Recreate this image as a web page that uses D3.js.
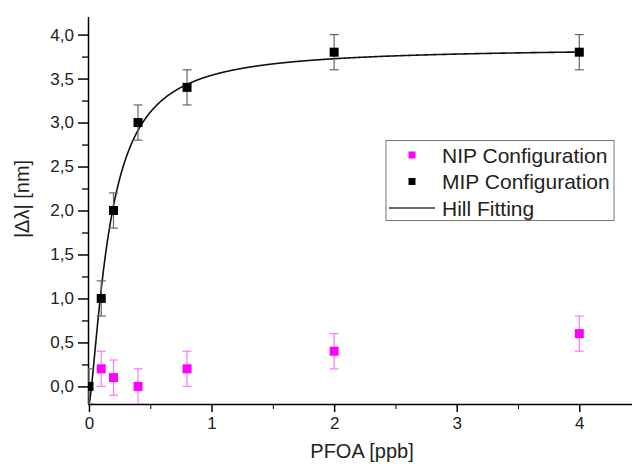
<!DOCTYPE html>
<html><head><meta charset="utf-8">
<script src="https://cdn.jsdelivr.net/npm/d3@7"></script>
<style>body{margin:0;background:#fff}svg{display:block;font-family:"Liberation Sans",Arial,sans-serif}</style>
</head><body><svg id="c" width="632" height="468"></svg>
<script>
const mipX = [0, 0.1, 0.2, 0.4, 0.8, 2, 4];
const mipY = [0, 1.0, 2.0, 3.0, 3.4, 3.8, 3.8];
const mipErr = [0.2, 0.2, 0.2, 0.2, 0.2, 0.2, 0.2];
const nipX = [0.1, 0.2, 0.4, 0.8, 2, 4];
const nipY = [0.2, 0.1, 0.0, 0.2, 0.4, 0.6];
const nipErr = [0.2, 0.2, 0.2, 0.2, 0.2, 0.2];
// Hill fit parameters: start, end, k, n
const hillParams = [-0.2, 3.85, 0.17, 1.4];
const xTicks = [0, 1, 2, 3, 4];
const yTicks = [0, 0.5, 1, 1.5, 2, 2.5, 3, 3.5, 4];
const legendLabels = ["NIP Configuration", "MIP Configuration", "Hill Fitting"];

const svg = d3.select("#c");
const x = d3.scaleLinear().domain([-0.008, 4.43]).range([88, 632]);
const y = d3.scaleLinear().domain([-0.2, 4.2]).range([404, 17]);
const fmt = d => d3.format(".1f")(d).replace(".", ",");

svg.append("defs").append("clipPath").attr("id","clip")
  .append("rect").attr("x",88).attr("y",17).attr("width",544).attr("height",387);

// Axes
const gx = svg.append("g").attr("transform","translate(0,404)");
gx.call(d3.axisBottom(x).tickValues(d3.range(0.5,4.5,1)).tickSize(5).tickFormat(""));
gx.call(g=>g.select(".domain").remove());
const gx2 = svg.append("g").attr("transform","translate(0,404)");
gx2.call(d3.axisBottom(x).tickValues(xTicks).tickSize(8).tickPadding(5).tickFormat(d3.format("d")));
gx2.selectAll("text").attr("font-size",17).attr("fill","#222").attr("font-family","Liberation Sans, Arial");
gx2.selectAll("line").attr("stroke-width",1.5);
gx2.select(".domain").attr("stroke-width",1.5);

const gy = svg.append("g").attr("transform","translate(88,0)");
gy.call(d3.axisLeft(y).tickValues(d3.range(0.25,4.2,0.5)).tickSize(6).tickFormat(""));
gy.call(g=>g.select(".domain").remove());
gy.selectAll("line").attr("stroke-width",1.3);
const gy2 = svg.append("g").attr("transform","translate(88,0)");
gy2.call(d3.axisLeft(y).tickValues(yTicks).tickSize(10).tickPadding(4).tickFormat(fmt));
gy2.selectAll("text").attr("font-size",17).attr("fill","#222").attr("font-family","Liberation Sans, Arial");
gy2.selectAll("line").attr("stroke-width",1.5);
gy2.select(".domain").attr("stroke-width",1.5).attr("d","M0.5,17V404");
gx2.select(".domain").attr("d","M88,0.5H632");

// axis titles
svg.append("text").attr("x",362).attr("y",458).attr("text-anchor","middle")
  .attr("font-size",20).attr("fill","#222").text("PFOA [ppb]");
svg.append("text").attr("transform","translate(29,199) rotate(-90)").attr("text-anchor","middle")
  .attr("font-size",20).attr("fill","#222").text("|Δλ| [nm]");

const plot = svg.append("g").attr("clip-path","url(#clip)");

// Hill curve
const [h0,h1,hk,hn] = hillParams;
const hill = v => h0 + (h1-h0) * Math.pow(v,hn)/(Math.pow(hk,hn)+Math.pow(v,hn));
const xs = d3.range(0, 4.0001, 0.0025);
plot.append("path").datum(xs)
  .attr("d", d3.line().x(d=>x(d)).y(d=>y(hill(d))))
  .attr("fill","none").attr("stroke","#111").attr("stroke-width",1.6);

function errs(xa, ya, ea, color){
  const g = plot.append("g").attr("stroke",color).attr("stroke-width",1.2);
  xa.forEach((xv,i)=>{
    const cx = x(xv), t = y(ya[i]+ea[i]), b = y(ya[i]-ea[i]);
    g.append("line").attr("x1",cx).attr("x2",cx).attr("y1",t).attr("y2",b);
    g.append("line").attr("x1",cx-4.5).attr("x2",cx+4.5).attr("y1",t).attr("y2",t);
    g.append("line").attr("x1",cx-4.5).attr("x2",cx+4.5).attr("y1",b).attr("y2",b);
  });
}
function marks(xa, ya, color){
  plot.append("g").selectAll("rect").data(xa).join("rect")
    .attr("x",(d)=>x(d)-4.5).attr("y",(d,i)=>y(ya[i])-4.5)
    .attr("width",9).attr("height",9).attr("fill",color);
}
errs(nipX, nipY, nipErr, "#ff77ff");
errs(mipX, mipY, mipErr, "#666");
marks(nipX, nipY, "#ff00ff");
marks(mipX, mipY, "#000");

// Legend
const lg = svg.append("g");
lg.append("rect").attr("x",386).attr("y",140.5).attr("width",228).attr("height",80)
  .attr("fill","#fff").attr("stroke","#777").attr("stroke-width",1);
const ly = [155, 181.5, 208];
lg.append("rect").attr("x",408.5).attr("y",ly[0]-3.5).attr("width",7).attr("height",7).attr("fill","#ff00ff");
lg.append("rect").attr("x",408.5).attr("y",ly[1]-3.5).attr("width",7).attr("height",7).attr("fill","#000");
lg.append("line").attr("x1",389).attr("x2",435).attr("y1",ly[2]).attr("y2",ly[2]).attr("stroke","#333").attr("stroke-width",1.5);
legendLabels.forEach((t,i)=>{
  lg.append("text").attr("x",442).attr("y",ly[i]+7.5).attr("font-size",21).attr("fill","#222").text(t);
});
</script></body></html>
